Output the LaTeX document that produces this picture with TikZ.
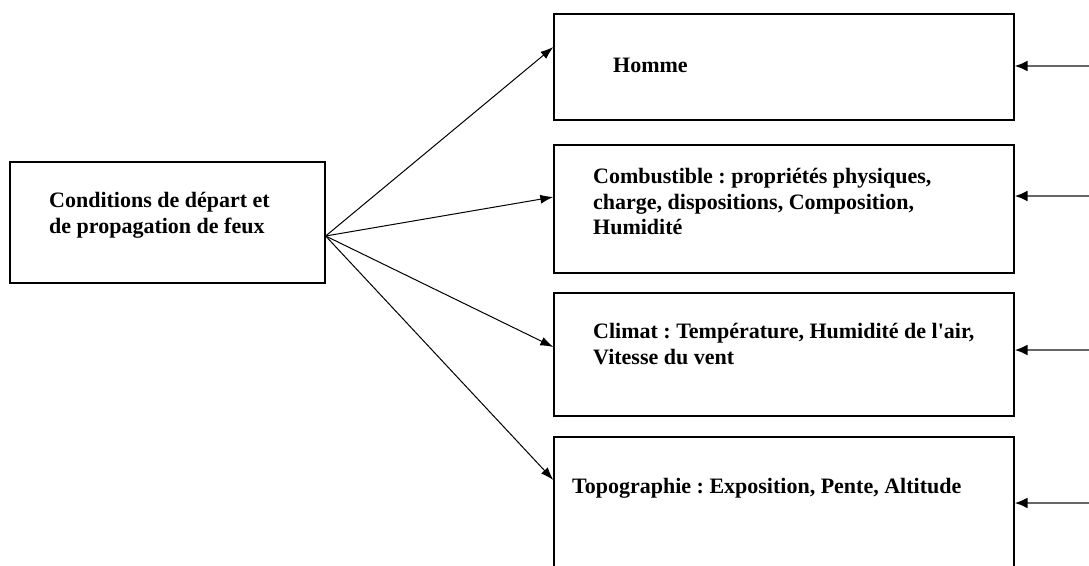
\documentclass[tikz,border=0pt]{standalone}
\usepackage{fontspec}
\setmainfont{Liberation Serif}
\usetikzlibrary{arrows.meta,calc}
\tikzset{
  boxnode/.style={draw=black, line width=1.3pt, rectangle, inner sep=0pt},
  txt/.style={anchor=north west, inner sep=0pt, align=left,
    font=\fontsize{22}{25.5}\selectfont\bfseries\frenchspacing},
  outarrow/.style={draw=black, line width=1pt, -{Latex[length=13pt,width=9pt]}},
  inarrow/.style={draw=black!60, line width=2.2pt, -{Latex[length=13pt,width=11pt,fill=black,color=black]}}
}
\begin{document}
\begin{tikzpicture}[x=1pt,y=-1pt]
\useasboundingbox (0,0) rectangle (1089,565);
\clip (0,0) rectangle (1089,565);
% boxes
\node[boxnode, minimum width=315pt, minimum height=121pt] (cond) at (167.5,222.5) {};
\node[boxnode, minimum width=460pt, minimum height=106pt] (homme) at (784,67) {};
\node[boxnode, minimum width=460pt, minimum height=128pt] (comb) at (784,209) {};
\node[boxnode, minimum width=460pt, minimum height=123pt] (clim) at (784,354.5) {};
\node[boxnode, minimum width=460pt, minimum height=163pt] (topo) at (784,518.5) {};
% texts
\node[txt] (tcond) at (49,189.5) {\strut Conditions de départ et\\de propagation de feux};
\node[txt] (thomme) at (613,54.5) {\strut Homme};
\node[txt] (tcomb) at (593,165.5) {\strut Combustible : propriétés physiques,\\charge, dispositions, Composition,\\Humidité};
\node[txt] (tclim) at (593,320.5) {\strut Climat : Température, Humidité de l\textquotesingle air,\\Vitesse du vent};
\node[txt] (ttopo) at (572,475.5) {\strut Topographie : Exposition, Pente, Altitude};
% connector points
\coordinate (src) at ($(cond.east)+(0,13.5)$);
\coordinate (h1) at ($(homme.west)+(0,-20)$);
\coordinate (c1) at ($(comb.west)+(0,-12)$);
\coordinate (k1) at ($(clim.west)+(0,-7.5)$);
\coordinate (t1) at ($(topo.west)+(0,-38.5)$);
\coordinate (h2) at ($(homme.east)+(0,-1)$);
\coordinate (c2) at ($(comb.east)+(0,-13)$);
\coordinate (k2) at ($(clim.east)+(0,-4.5)$);
\coordinate (t2) at ($(topo.east)+(0,-15.5)$);
\coordinate (h3) at (1089,66);
\coordinate (c3) at (1089,196);
\coordinate (k3) at (1089,350);
\coordinate (t3) at (1089,503);
% arrows
\draw[outarrow] (src) -- (h1);
\draw[outarrow] (src) -- (c1);
\draw[outarrow] (src) -- (k1);
\draw[outarrow] (src) -- (t1);
\draw[inarrow] (h3) -- (h2);
\draw[inarrow] (c3) -- (c2);
\draw[inarrow] (k3) -- (k2);
\draw[inarrow] (t3) -- (t2);
\end{tikzpicture}
\end{document}
